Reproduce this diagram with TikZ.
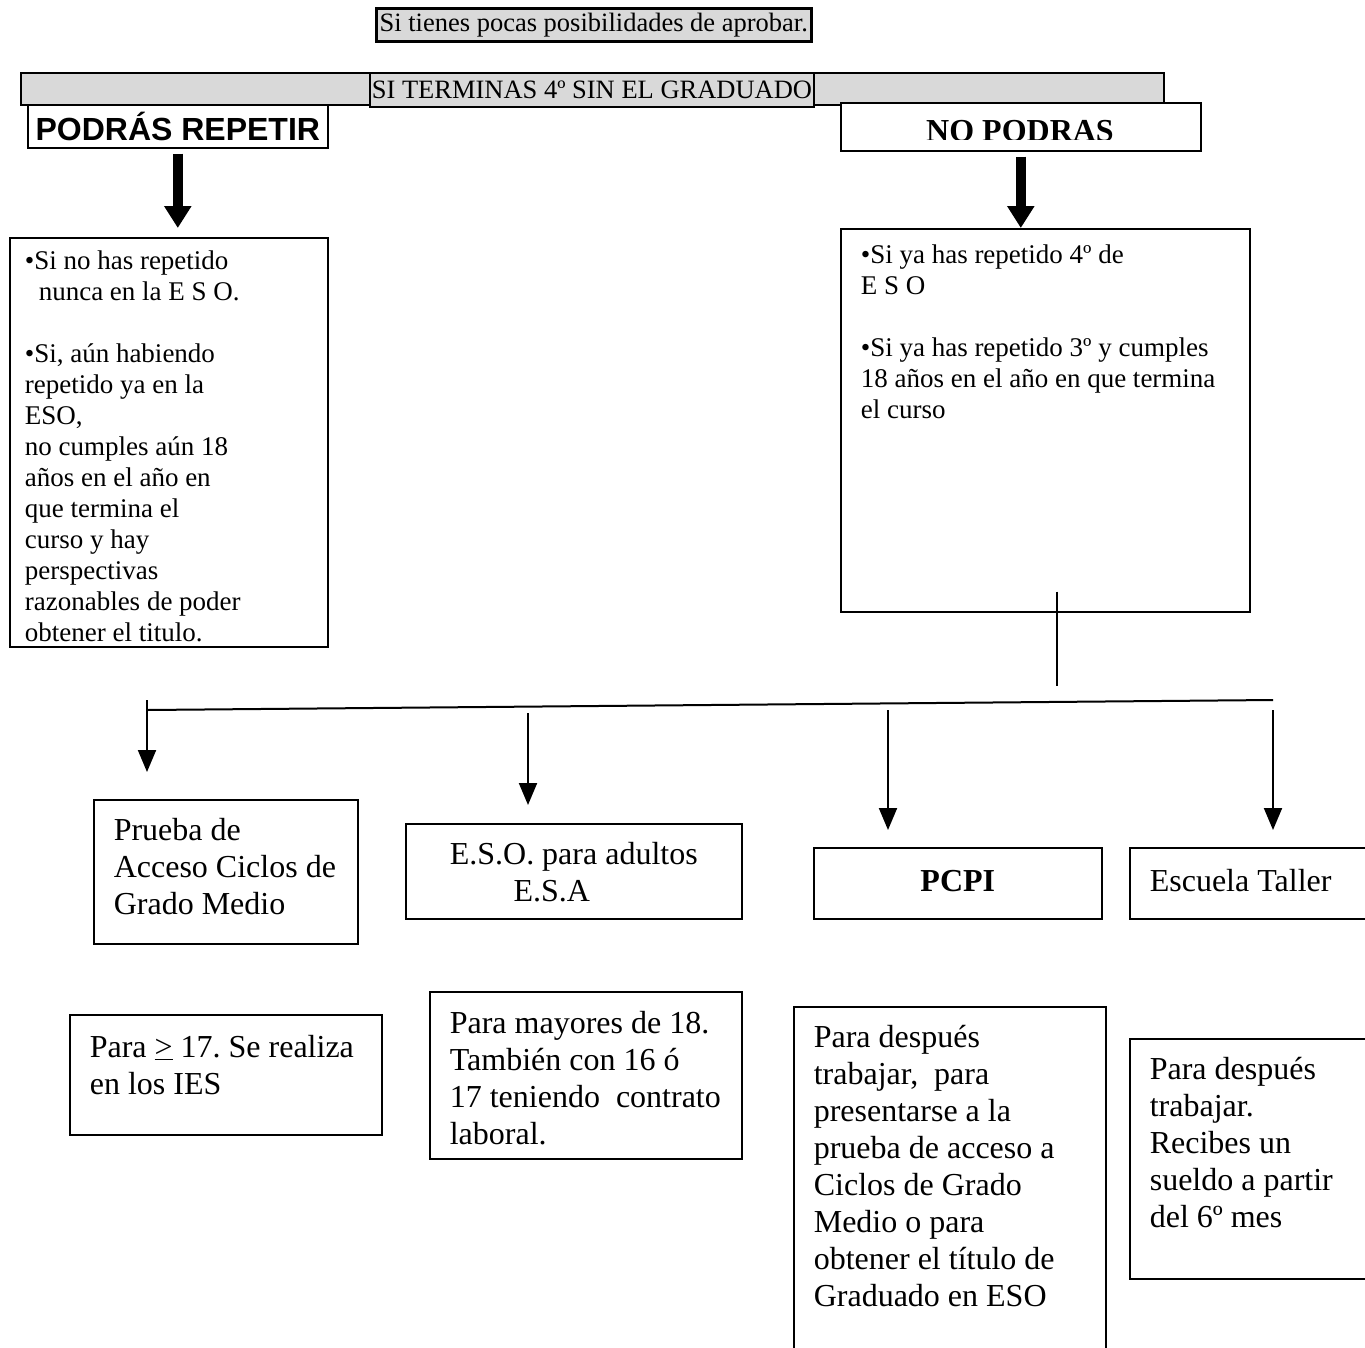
\documentclass[tikz,border=0pt]{standalone}
\usepackage{fontspec}
\setmainfont{Liberation Serif}
\newfontfamily\arialfont{Liberation Sans}
\usetikzlibrary{arrows.meta}
\definecolor{barGray}{RGB}{217,217,217}
\newcommand{\headfont}{\fontsize{26.5}{31}\selectfont}
\newcommand{\smallfont}{\fontsize{27}{31}\selectfont}
\newcommand{\bigfont}{\fontsize{32}{37}\selectfont}

\begin{document}
\frenchspacing
\begin{tikzpicture}[x=1pt, y=-1pt,
    hdbox/.style={draw, line width=2pt, fill=barGray, inner sep=1pt, anchor=north west, font=\headfont},
    txtbox/.style={draw, line width=1.6pt, fill=white, anchor=north west, align=flush left, inner xsep=20pt, inner ysep=0pt},
    bigarrow/.style={line width=10pt, -{Triangle[width=26pt,length=22pt]}},
    thinline/.style={line width=2pt},
    thinarrow/.style={line width=2pt, -{Triangle[width=18pt,length=22pt]}}]
    \useasboundingbox (0,0) rectangle (1365,1347);

    % header
    \node[hdbox, minimum width=1143pt, minimum height=32pt] (bar) at (20,72) {};
    \node[hdbox, minimum width=444pt, minimum height=34pt] (headline) at (369,72) {SI TERMINAS 4º SIN EL GRADUADO};
    \node[hdbox, line width=2.5pt, minimum width=435pt, minimum height=33pt] (topnote) at (375,7) {Si tienes pocas posibilidades de aprobar.};

    \node[draw, line width=1.6pt, fill=white, anchor=north west, minimum width=300pt, minimum height=43pt, inner sep=0pt, font=\arialfont\bfseries\bigfont] (podras) at (27,104) {PODRÁS REPETIR};
    \node[draw, line width=1.6pt, fill=white, anchor=north west, minimum width=360pt, minimum height=48pt] (nopodras) at (840,102) {};
    \begin{scope}
        \clip (840,102) rectangle (1200,139);
        \node[anchor=base, inner sep=0pt, font=\bfseries\bigfont] (nopodraslbl) at (1020,141) {NO PODRAS};
    \end{scope}

    % conditions
    \node[txtbox, inner xsep=15pt, font=\smallfont, text width=288pt, text height=32pt, text depth=377pt] (leftbox) at (9,237) {\textbullet Si no has repetido\\ \hspace*{14pt}nunca en la E S O.\\[31pt] \textbullet Si, aún habiendo\\ repetido ya en la\\ ESO,\\ no cumples aún 18\\ años en el año en\\ que termina el\\ curso y hay\\ perspectivas\\ razonables de poder\\ obtener el titulo.};
    \node[txtbox, font=\smallfont, text width=369pt, text height=35pt, text depth=348pt] (rightbox) at (840,228) {\textbullet Si ya has repetido 4º de\\ E S O\\[31pt] \textbullet Si ya has repetido 3º y cumples\\ 18 años en el año en que termina\\ el curso};

    \draw[bigarrow, shorten <=5pt, shorten >=9pt] (podras.south) -- (podras.south |- leftbox.north);
    \draw[bigarrow, shorten <=5pt] (nopodras.south) -- (nopodras.south |- rightbox.north);

    % options
    \node[txtbox, font=\bigfont, text width=224pt, text height=41pt, text depth=103pt] (prueba) at (93,799) {Prueba de\\ Acceso Ciclos de\\ Grado Medio};
    \node[txtbox, font=\bigfont, align=flush center, text width=296pt, text height=41pt, text depth=54pt] (esa) at (405,823) {E.S.O. para adultos\\ E.S.A\rule{44pt}{0pt}};
    \node[txtbox, font=\bfseries\bigfont, align=flush center, text width=248pt, text height=44pt, text depth=27pt] (pcpi) at (813,847) {PCPI};
    \node[txtbox, font=\bigfont, text width=200pt, text height=44pt, text depth=27pt] (taller) at (1129,847) {Escuela Taller};

    \node[txtbox, font=\bigfont, text width=272pt, text height=43pt, text depth=77pt] (infoprueba) at (69,1014) {Para \underline{>} 17. Se realiza\\ en los IES};
    \node[txtbox, font=\bigfont, text width=272pt, text height=42pt, text depth=125pt] (infoesa) at (429,991) {Para mayores de 18.\\ También con 16 ó\\ 17 teniendo~ contrato\\ laboral.};
    \node[txtbox, font=\bigfont, text width=272pt, text height=41pt, text depth=319pt] (infopcpi) at (793,1006) {Para después\\ trabajar,~ para\\ presentarse a la\\ prueba de acceso a\\ Ciclos de Grado\\ Medio o para\\ obtener el título de\\ Graduado en ESO};
    \node[txtbox, font=\bigfont, text width=200pt, text height=41pt, text depth=199pt] (infotaller) at (1129,1038) {Para después\\ trabajar.\\ Recibes un\\ sueldo a partir\\ del 6º mes};

    % branching
    \coordinate (drop) at (1057,686);
    \coordinate (busL) at (147,710);
    \coordinate (busR) at (1273,700);
    \coordinate (a1) at (147,700);
    \coordinate (a2) at (528,713);
    \coordinate (a3) at (888,710);
    \coordinate (a4) at (1273,710);
    \draw[thinline] ([yshift=21pt]rightbox.south -| drop) -- (drop);
    \draw[thinline] (busL) -- (busR);
    \draw[thinarrow, shorten >=27pt] (a1) -- (a1 |- prueba.north);
    \draw[thinarrow, shorten >=18pt] (a2) -- (a2 |- esa.north);
    \draw[thinarrow, shorten >=17pt] (a3) -- (a3 |- pcpi.north);
    \draw[thinarrow, shorten >=17pt] (a4) -- (a4 |- taller.north);
\end{tikzpicture}
\end{document}
